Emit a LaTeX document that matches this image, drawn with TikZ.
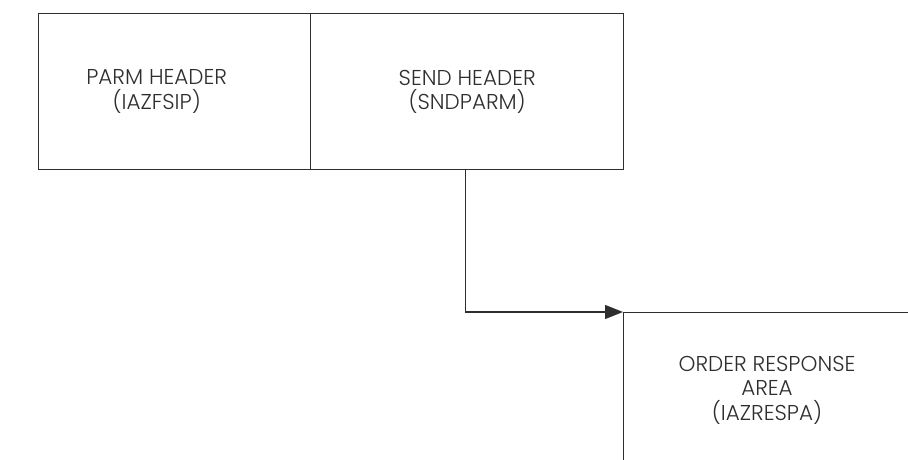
\documentclass[tikz,border=0pt]{standalone}
\usepackage{fontspec}
\setmainfont{Poppins}[UprightFont=* Light]
\usetikzlibrary{arrows.meta}
\definecolor{inkgray}{HTML}{2E2E2E}
\tikzset{
  blockbox/.style={draw=inkgray, line width=1.4pt, rectangle, inner sep=0pt},
  blocktext/.style={align=center, text=inkgray, font=\fontsize{21.5}{24.5}\selectfont},
  flowarrow/.style={draw=inkgray, line width=1.4pt, -{Triangle[length=18pt,width=14pt]}}
}
\begin{document}
\begin{tikzpicture}[x=1pt,y=-1pt]
        \useasboundingbox (0,0) rectangle (908,460);
        \clip (0,0) rectangle (908,460);

        % Draw the header boxes
        \node[blockbox, minimum width=272pt, minimum height=156pt, anchor=north west] (parm) at (38,13) {};
        \node[blockbox, minimum width=313pt, minimum height=156pt, anchor=north west] (send) at (310,13) {};

        % Draw the response area
        \node[blockbox, minimum width=300pt, minimum height=220pt, anchor=north west] (resp) at (623,312) {};

        % Label the boxes
        \node[blocktext] (parmtext) at ([xshift=-18pt]parm.center) {PARM HEADER\\(IAZFSIP)};
        \node[blocktext] (sendtext) at (send.center) {SEND HEADER\\(SNDPARM)};
        \node[blocktext] (resptext) at (767,390) {ORDER RESPONSE\\AREA\\(IAZRESPA)};

        % Draw the connector
        \draw[flowarrow] ([xshift=-1.5pt]send.south) |- (resp.north west);

        \end{tikzpicture}
\end{document}
